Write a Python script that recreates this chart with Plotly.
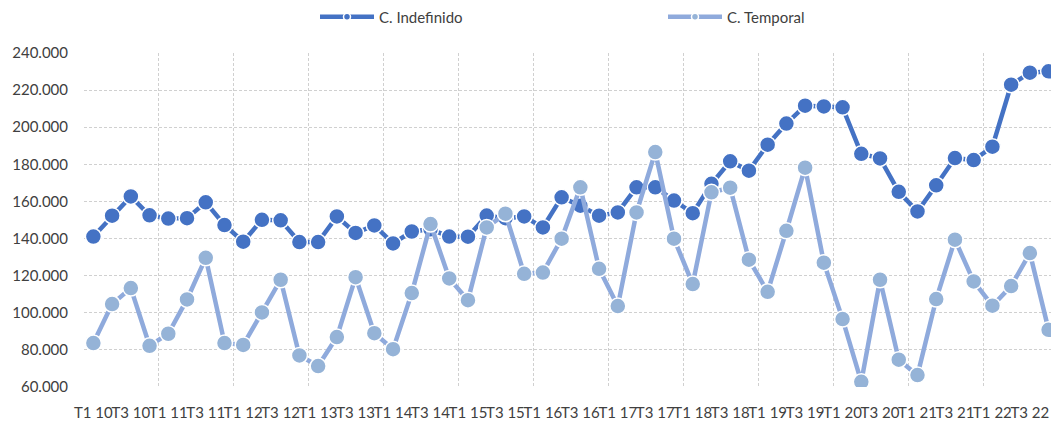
import plotly.graph_objects as go

years = [str(y) for y in range(10, 23)]
quarters = [f"T{q} {y}" for y in years for q in (1, 2, 3, 4)]

indefinido = [
    141.1, 152.3, 162.7, 152.5, 150.8, 151.0, 159.5, 147.3, 138.3, 150.1,
    149.8, 138.1, 138.1, 151.9, 143.0, 147.1, 137.4, 143.8, 145.0, 141.1,
    141.0, 152.4, 151.0, 151.9, 146.0, 162.2, 157.7, 152.3, 154.1, 167.6,
    167.6, 160.5, 153.7, 169.5, 181.6, 176.6, 190.6, 202.0, 211.6, 211.2,
    210.7, 185.7, 183.2, 165.2, 154.6, 168.7, 183.4, 182.3, 189.5, 222.9,
    229.4, 230.1,
]
temporal = [
    83.7, 104.7, 113.3, 82.2, 88.7, 107.2, 129.6, 83.7, 82.7, 100.2,
    117.8, 77.0, 71.3, 86.9, 119.2, 89.0, 80.4, 110.6, 147.8, 118.5,
    106.8, 146.0, 153.4, 121.0, 121.7, 139.9, 167.6, 123.7, 103.6, 154.1,
    186.6, 139.9, 115.5, 164.9, 167.4, 128.6, 111.3, 144.2, 178.2, 127.0,
    96.6, 62.8, 117.8, 74.7, 66.4, 107.4, 139.4, 116.9, 103.8, 114.4,
    132.2, 90.8,
]
indefinido = [v * 1000 for v in indefinido]
temporal = [v * 1000 for v in temporal]

series_names = ["C. Indefinido", "C. Temporal"]
line_colors = ["#4472C4", "#8FAADC"]
marker_colors = ["#4472C4", "#95B3D7"]

xs = list(range(len(quarters)))
FONT = "Lato"
TXT = "#404040"
GRID = "#D0D0D0"

fig = go.Figure()
for name, vals, lc, mc in zip(series_names, [indefinido, temporal], line_colors, marker_colors):
    fig.add_trace(go.Scatter(
        x=xs, y=vals, mode="lines+markers", name=name, showlegend=False,
        line=dict(color=lc, width=4.5),
        marker=dict(size=16, color=mc, line=dict(color="white", width=1.5)),
        hoverinfo="skip",
    ))

# legend-only entries (small markers as in the original legend)
for i, (name, lc, mc) in enumerate(zip(series_names, line_colors, marker_colors)):
    fig.add_trace(go.Scatter(
        x=[None], y=[None], mode="lines+markers", name=name,
        line=dict(color=lc, width=4.5),
        marker=dict(size=7, color=mc, line=dict(color="white", width=1.5)),
        legend="legend" if i == 0 else "legend2",
    ))

plot_left = 84
cat_w = 18.73
xmax = (1051 - plot_left) / cat_w - 0.5

fig.update_layout(
    width=1051, height=424,
    margin=dict(l=plot_left, r=0, t=53, b=37, pad=0),
    paper_bgcolor="white", plot_bgcolor="white",
    separators=",.",
    font=dict(family=FONT, size=15, color=TXT),
    xaxis=dict(
        range=[-0.5, xmax], showgrid=False, zeroline=False, showline=False,
        tickmode="array", tickvals=xs[::2], ticktext=quarters[::2],
        ticks="", ticklabelstandoff=15, tickangle=0, automargin=False,
        tickfont=dict(family=FONT, size=15, color=TXT),
        minor=dict(tick0=-0.5, dtick=4, showgrid=True, gridcolor=GRID,
                   griddash="3px,2px", gridwidth=1, ticks=""),
    ),
    yaxis=dict(
        range=[60000, 240000], dtick=20000, tickformat=",d",
        showgrid=True, gridcolor=GRID, griddash="3px,2px", gridwidth=1,
        zeroline=False, showline=False, ticks="", ticklabelstandoff=15,
        automargin=False,
        tickfont=dict(family=FONT, size=15, color=TXT),
    ),
    legend=dict(orientation="h", xref="container", yref="container",
                x=315 / 1051, y=1 - 17 / 424, xanchor="left", yanchor="middle",
                itemwidth=54, font=dict(family=FONT, size=15, color=TXT),
                bgcolor="rgba(0,0,0,0)"),
    legend2=dict(orientation="h", xref="container", yref="container",
                 x=663 / 1051, y=1 - 17 / 424, xanchor="left", yanchor="middle",
                 itemwidth=54, font=dict(family=FONT, size=15, color=TXT),
                 bgcolor="rgba(0,0,0,0)"),
)

fig.write_html("out.html", config={"displayModeBar": False},
               post_script="document.body.style.margin='0';")
